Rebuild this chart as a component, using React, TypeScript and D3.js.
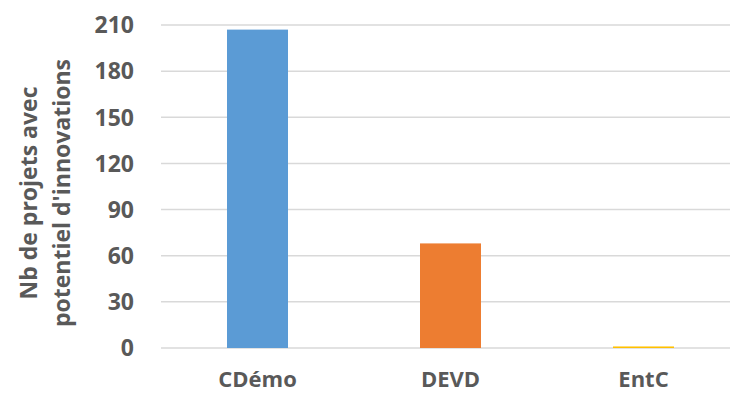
import React, { useEffect, useRef } from 'react';
import * as d3 from 'd3';

const categories = ['CDémo', 'DEVD', 'EntC'];
const values = [207, 68, 1];
const colors = ['#5B9BD5', '#ED7D31', '#FFC000'];
const yTicks = [0, 30, 60, 90, 120, 150, 180, 210];
const titleLines = ['Nb de projets avec', "potentiel d'innovations"];

export default function App() {
    const svgRef = useRef<SVGSVGElement>(null);

    useEffect(() => {
        if (!svgRef.current) return;
        const width = 730;
        const height = 396;
        const font = 'Open Sans, Noto Sans, sans-serif';
        const textColor = '#595959';

        const svg = d3.select(svgRef.current)
            .attr('width', width)
            .attr('height', height);
        svg.selectAll('*').remove();

        const x = d3.scaleBand<string>()
            .domain(categories)
            .range([161, 740])
            .paddingInner(0.684)
            .paddingOuter(0.342);

        const y = d3.scaleLinear()
            .domain([0, 210])
            .range([348, 25]);

        // gridlines
        svg.append('g')
            .selectAll('line')
            .data(yTicks)
            .enter()
            .append('line')
            .attr('x1', 161)
            .attr('x2', width)
            .attr('y1', d => y(d))
            .attr('y2', d => y(d))
            .attr('stroke', '#d9d9d9')
            .attr('stroke-width', 1.5);

        // tick labels
        svg.append('g')
            .selectAll('text')
            .data(yTicks)
            .enter()
            .append('text')
            .attr('x', 134)
            .attr('y', d => y(d))
            .attr('dy', '0.36em')
            .attr('text-anchor', 'end')
            .attr('fill', textColor)
            .attr('font-family', font)
            .attr('font-weight', 'bold')
            .attr('font-size', '23px')
            .text(d => d);

        // bars
        svg.append('g')
            .selectAll('rect')
            .data(values)
            .enter()
            .append('rect')
            .attr('x', (d, i) => x(categories[i])!)
            .attr('width', x.bandwidth())
            .attr('y', d => y(d))
            .attr('height', d => y(0) - y(d))
            .attr('fill', (d, i) => colors[i]);

        // category labels
        svg.append('g')
            .selectAll('text')
            .data(categories)
            .enter()
            .append('text')
            .attr('x', d => x(d)! + x.bandwidth() / 2)
            .attr('y', 387)
            .attr('text-anchor', 'middle')
            .attr('fill', textColor)
            .attr('font-family', font)
            .attr('font-weight', 'bold')
            .attr('font-size', '22px')
            .text(d => d);

        // y title
        const title = svg.append('text')
            .attr('transform', 'translate(0,193) rotate(-90)')
            .attr('text-anchor', 'middle')
            .attr('fill', textColor)
            .attr('font-family', font)
            .attr('font-weight', 'bold')
            .attr('font-size', '23px');
        titleLines.forEach((line, i) => {
            title.append('tspan')
                .attr('x', 0)
                .attr('y', 37 + i * 33)
                .text(line);
        });
    }, []);

    return <svg ref={svgRef} style={{ position: 'absolute', left: 0, top: 0 }} />;
}
